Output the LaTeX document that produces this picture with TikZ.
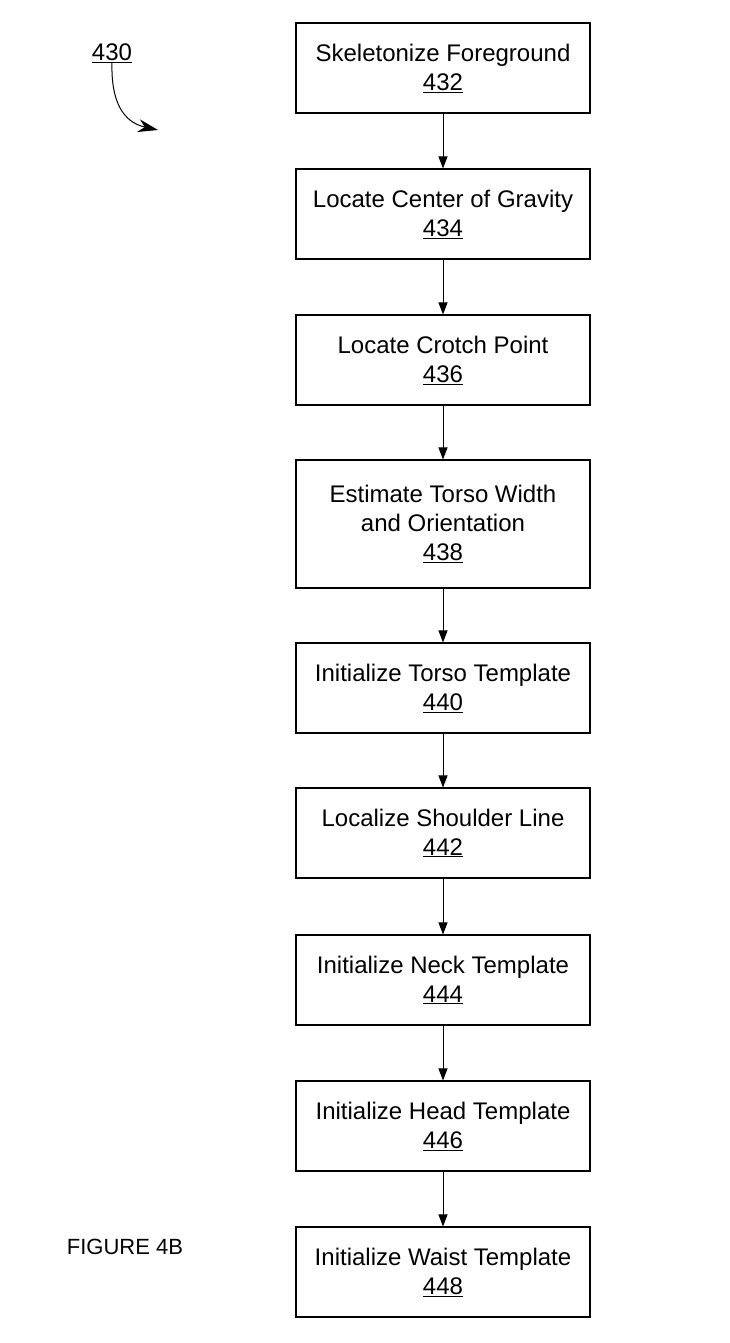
\documentclass[tikz,border=0pt]{standalone}
\usepackage{fontspec}
\setmainfont{Liberation Sans}
\usetikzlibrary{arrows.meta}

\tikzset{
  stepbox/.style={draw, line width=1.1pt, minimum width=294pt, minimum height=90pt,
    align=center, inner sep=0pt, font=\fontsize{24}{29}\selectfont},
  flow/.style={-{Triangle[length=12pt,width=9pt]}, line width=1pt}
}

\begin{document}
\begin{tikzpicture}[x=1pt,y=-1pt]
\useasboundingbox (0,0) rectangle (730,1343);
\def\cx{443}

% 流程框
\node[stepbox] (skel) at (\cx,68) {Skeletonize Foreground\\\underline{432}};
\node[stepbox] (cog) at (\cx,214) {Locate Center of Gravity\\\underline{434}};
\node[stepbox] (crotch) at (\cx,360) {Locate Crotch Point\\\underline{436}};
\node[stepbox, minimum height=128pt] (torso) at (\cx,524) {Estimate Torso Width\\and Orientation\\\underline{438}};
\node[stepbox] (torsotpl) at (\cx,688) {Initialize Torso Template\\\underline{440}};
\node[stepbox] (shoulder) at (\cx,833) {Localize Shoulder Line\\\underline{442}};
\node[stepbox] (neck) at (\cx,980) {Initialize Neck Template\\\underline{444}};
\node[stepbox] (head) at (\cx,1126) {Initialize Head Template\\\underline{446}};
\node[stepbox] (waist) at (\cx,1272) {Initialize Waist Template\\\underline{448}};

% 箭头
\foreach \a/\b in {skel/cog, cog/crotch, crotch/torso, torso/torsotpl,
  torsotpl/shoulder, shoulder/neck, neck/head, head/waist}
  \draw[flow] (\a) -- (\b);

% 标号 430 及其弯箭头
\node[inner sep=0pt, font=\fontsize{24}{29}\selectfont] (ref) at (112,53) {\underline{430}};
\coordinate (refend) at (158,130);
\draw[-{Stealth[length=20pt,width=13pt]}, line width=1pt]
  (ref.south) .. controls (111,100) and (122,122) .. (refend);

% 图名
\node[font=\fontsize{22}{26}\selectfont] (fig) at (125,1247) {FIGURE 4B};
\end{tikzpicture}
\end{document}
